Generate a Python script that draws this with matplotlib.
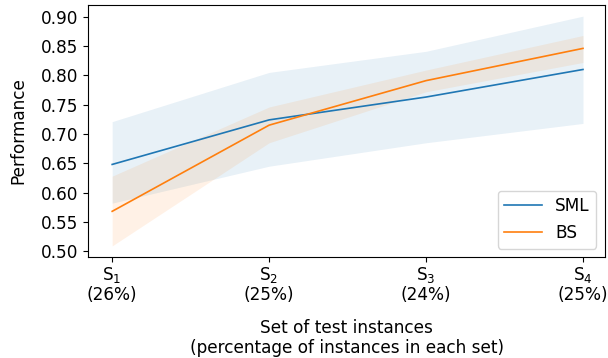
import matplotlib
matplotlib.use('Agg')
import matplotlib.pyplot as plt
import numpy as np

sets = ['$\\mathregular{S_1}$\n(26%)', '$\\mathregular{S_2}$\n(25%)',
        '$\\mathregular{S_3}$\n(24%)', '$\\mathregular{S_4}$\n(25%)']
sml_mean = [0.648, 0.724, 0.763, 0.810]
sml_low = [0.582, 0.645, 0.685, 0.718]
sml_high = [0.721, 0.805, 0.841, 0.901]
bs_mean = [0.568, 0.715, 0.791, 0.846]
bs_low = [0.509, 0.685, 0.772, 0.822]
bs_high = [0.628, 0.746, 0.809, 0.868]

plt.rcParams['font.size'] = 12.2
fig, ax = plt.subplots(figsize=(6.08, 3.58), dpi=100)
x = np.arange(len(sets))

ax.plot(x, sml_mean, color='#1f77b4', lw=1.2, label='SML')
ax.fill_between(x, sml_low, sml_high, color='#1f77b4', alpha=0.1, lw=0)
ax.plot(x, bs_mean, color='#ff7f0e', lw=1.2, label='BS')
ax.fill_between(x, bs_low, bs_high, color='#ff7f0e', alpha=0.1, lw=0)

ax.set_xticks(x)
ax.set_xticklabels(sets, linespacing=1.1)
ax.tick_params(axis='x', pad=2)
ax.set_yticks(np.arange(0.50, 0.91, 0.05))
ax.set_ylim(0.49, 0.92)
ax.set_xlim(-0.153, 3.14)
ax.set_ylabel('Performance', labelpad=10)
ax.set_xlabel('Set of test instances\n(percentage of instances in each set)', labelpad=11,
              linespacing=1.1)
ax.legend(loc='lower right', handlelength=2.2)

fig.subplots_adjust(left=0.145, right=0.995, top=0.986, bottom=0.282)
fig.savefig('out.png')
